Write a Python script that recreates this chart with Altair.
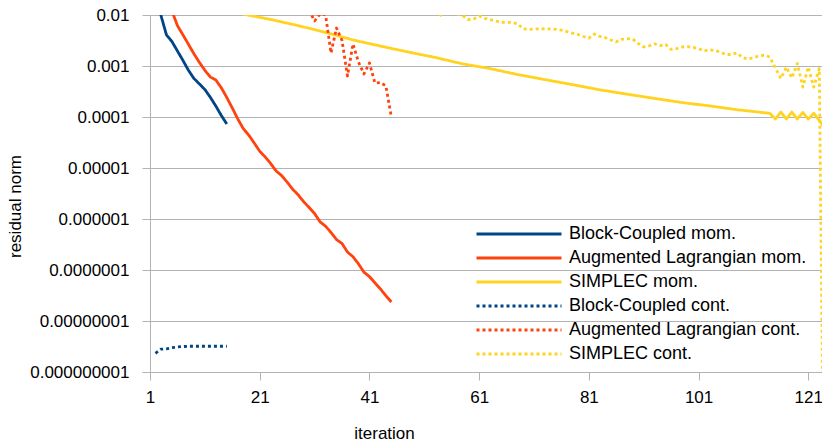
import altair as alt
import pandas as pd

series_names = [
    "Block-Coupled mom.",
    "Augmented Lagrangian mom.",
    "SIMPLEC mom.",
    "Block-Coupled cont.",
    "Augmented Lagrangian cont.",
    "SIMPLEC cont.",
]
series_colors = ["#004586", "#ff420e", "#ffd320", "#004586", "#ff420e", "#ffd320"]
series_dashes = [[1, 0], [1, 0], [1, 0], [3, 3], [3, 3], [3, 3]]

x_ticks = [1, 21, 41, 61, 81, 101, 121]
y_ticks = [1e-9, 1e-8, 1e-7, 1e-6, 1e-5, 1e-4, 1e-3, 1e-2]

bc_mom_iter = list(range(2, 16))
bc_mom_val = [0.05, 0.0098, 4.06e-3, 3.02e-3, 1.97e-3, 1.29e-3, 8.28e-4, 5.71e-4,
              4.46e-4, 3.46e-4, 2.43e-4, 1.64e-4, 1.07e-4, 7.3e-5]

al_mom_iter = list(range(5, 46))
al_mom_val = [0.012, 6.19e-3, 4.09e-3, 2.67e-3, 1.74e-3, 1.18e-3, 8.24e-4, 6.08e-4,
              5.31e-4, 3.74e-4, 2.41e-4, 1.50e-4, 9.19e-5, 5.93e-5, 4.42e-5, 3.09e-5,
              2.13e-5, 1.65e-5, 1.22e-5, 8.73e-6, 7.10e-6, 5.30e-6, 3.84e-6, 2.98e-6,
              2.19e-6, 1.68e-6, 1.28e-6, 8.81e-7, 7.22e-7, 5.43e-7, 3.96e-7, 3.31e-7,
              2.25e-7, 1.82e-7, 1.32e-7, 9.06e-8, 7.43e-8, 5.59e-8, 4.26e-8, 3.13e-8,
              2.36e-8]

sc_mom_iter = [18, 23, 28, 33, 38, 43, 48, 53, 58, 63, 68, 73, 78, 83, 88, 93, 98, 103,
               108, 114, 115, 116, 117, 118, 119, 120, 121, 122, 123, 124]
sc_mom_val = [0.0104, 8.16e-3, 6.20e-3, 4.56e-3, 3.24e-3, 2.46e-3, 1.89e-3, 1.47e-3,
              1.10e-3, 8.89e-4, 6.81e-4, 5.41e-4, 4.31e-4, 3.41e-4, 2.80e-4, 2.31e-4,
              1.92e-4, 1.65e-4, 1.39e-4, 1.18e-4, 9.14e-5, 1.25e-4, 9.14e-5, 1.25e-4,
              9.14e-5, 1.23e-4, 9.14e-5, 1.18e-4, 8.6e-5, 6.0e-5]

bc_cont_iter = list(range(2, 16))
bc_cont_val = [2.33e-9, 2.8e-9, 2.85e-9, 3.0e-9, 3.1e-9, 3.15e-9, 3.2e-9, 3.2e-9,
               3.2e-9, 3.2e-9, 3.2e-9, 3.2e-9, 3.2e-9, 3.2e-9]

al_cont_iter = list(range(30, 46))
al_cont_val = [0.0125, 7.63e-3, 0.0105, 0.0101, 1.80e-3, 5.56e-3, 3.16e-3, 6.37e-4,
               2.70e-3, 1.20e-3, 6.97e-4, 1.15e-3, 4.65e-4, 4.74e-4, 4.06e-4, 1.0e-4]

sc_cont_iter = list(range(53, 125))
sc_cont_val = [0.013, 0.0099, 0.0125, 0.014, 0.0105, 0.0098, 8.16e-3, 8.35e-3,
               9.56e-3, 8.62e-3, 8.09e-3, 7.63e-3, 7.22e-3, 7.19e-3, 7.16e-3, 6.72e-3,
               5.36e-3, 5.22e-3, 5.31e-3, 5.36e-3, 5.38e-3, 5.34e-3, 5.25e-3, 5.04e-3,
               4.73e-3, 4.40e-3, 4.15e-3, 3.79e-3, 3.51e-3, 4.24e-3, 3.80e-3, 3.59e-3,
               3.24e-3, 2.98e-3, 3.34e-3, 3.41e-3, 3.38e-3, 2.76e-3, 2.36e-3, 2.49e-3,
               2.72e-3, 2.51e-3, 2.65e-3, 2.11e-3, 2.19e-3, 2.36e-3, 2.39e-3, 2.31e-3,
               2.20e-3, 1.97e-3, 2.09e-3, 2.01e-3, 1.88e-3, 1.68e-3, 1.68e-3, 1.80e-3,
               1.47e-3, 1.37e-3, 1.45e-3, 1.58e-3, 1.63e-3, 1.50e-3, 9.14e-4, 5.69e-4,
               9.55e-4, 5.82e-4, 1.12e-3, 3.87e-4, 9.55e-4, 3.87e-4, 8.93e-4, 5e-14]

all_iters = [bc_mom_iter, al_mom_iter, sc_mom_iter, bc_cont_iter, al_cont_iter, sc_cont_iter]
all_vals = [bc_mom_val, al_mom_val, sc_mom_val, bc_cont_val, al_cont_val, sc_cont_val]

rows = []
for name, its, vals in zip(series_names, all_iters, all_vals):
    assert len(its) == len(vals), name
    for i, v in zip(its, vals):
        rows.append({"iteration": i, "value": v, "series": name})
df = pd.DataFrame(rows)

FONT = "Liberation Sans"
GRID = "#b3b3b3"

chart = alt.Chart(df).mark_line(
    clip=True, strokeWidth=2.8, strokeJoin="round", strokeCap="butt"
).encode(
    x=alt.X(
        "iteration:Q",
        scale=alt.Scale(domain=[1, 123.5], nice=False, zero=False),
        axis=alt.Axis(
            values=x_ticks, grid=False, domainColor=GRID, tickColor=GRID, tickSize=8,
            labelFontSize=17, labelPadding=9, labelColor="#000000", labelFlush=False,
            title="iteration", titleFontSize=17, titleFontWeight="normal",
            titleColor="#000000", titleX=234, titleY=66, titleBaseline="alphabetic",
            titleAlign="center",
        ),
    ),
    y=alt.Y(
        "value:Q",
        scale=alt.Scale(type="log", domain=[1e-9, 1e-2], nice=False),
        axis=alt.Axis(
            values=y_ticks, format=".9~f", grid=True, gridColor=GRID, gridWidth=1,
            domainColor=GRID, tickColor=GRID, tickSize=8, labelFontSize=17,
            labelPadding=13, labelColor="#000000",
            title="residual norm", titleFontSize=17, titleFontWeight="normal",
            titleColor="#000000", titleX=-130, titleY=191, titleAngle=270,
            titleBaseline="alphabetic", titleAlign="center",
        ),
    ),
    color=alt.Color("series:N", scale=alt.Scale(domain=series_names, range=series_colors), title=None),
    strokeDash=alt.StrokeDash("series:N", scale=alt.Scale(domain=series_names, range=series_dashes), title=None),
).properties(
    width=672,
    height=357,
    autosize=alt.AutoSizeParams(type="none"),
    padding={"left": 150, "top": 15, "right": 0, "bottom": 70},
).configure(
    font=FONT
).configure_view(
    strokeWidth=0
).configure_legend(
    orient="none", legendX=325, legendY=208.2, padding=0,
    symbolType="stroke", symbolSize=7225, symbolStrokeWidth=2.8,
    clipHeight=21.6, rowPadding=2, labelOffset=6, labelFontSize=18,
    labelColor="#000000", labelLimit=0, labelFont=FONT,
)

chart.save("out.html", embed_options={"renderer": "svg", "actions": False})
